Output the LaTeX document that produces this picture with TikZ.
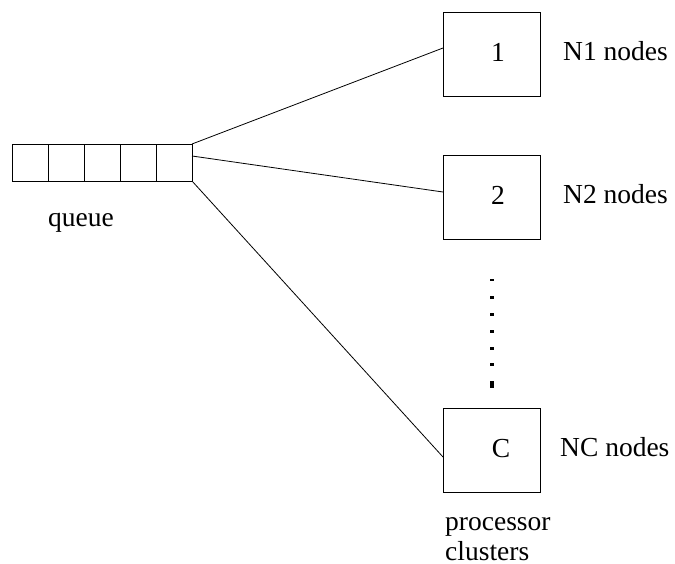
\documentclass[tikz,border=0pt]{standalone}
\usepackage{fontspec}
\setmainfont{Liberation Serif}
\begin{document}
\begin{tikzpicture}[x=1pt,y=-1pt,
  cell/.style={draw, line width=0.9pt, minimum width=36pt, minimum height=37pt, inner sep=0pt, outer sep=0pt},
  cluster/.style={draw, line width=1pt, minimum width=97pt, minimum height=84pt, inner sep=0pt, outer sep=0pt},
  lbl/.style={inner sep=0pt, font=\fontsize{27.5}{31}\selectfont},
  link/.style={line width=0.8pt},
  dot/.style={fill=black}]
\useasboundingbox (0,0) rectangle (675,564);
% queue
\foreach \i in {1,...,5} {
  \node[cell] (q\i) at ({12+36*\i-18},162.5) {};
}
\node[lbl, anchor=base west] (qlabel) at (48,227) {queue};
% clusters
\node[cluster] (b1) at (491.5,55) {};
\node[cluster] (b2) at (491.5,198) {};
\node[cluster] (bc) at (491.5,450.5) {};
\node[lbl, anchor=base] (t1) at (498,62) {1};
\node[lbl, anchor=base] (t2) at (498,205) {2};
\node[lbl, anchor=base] (tc) at (501,457) {C};
\node[lbl, anchor=base west] (n1) at (563,61) {N1 nodes};
\node[lbl, anchor=base west] (n2) at (563,204) {N2 nodes};
\node[lbl, anchor=base west] (nc) at (560,456) {NC nodes};
\node[lbl, anchor=base west] (pc) at (445,530) {processor};
\node[lbl, anchor=base west] (pc2) at (445,560) {clusters};
% links
\draw[link] (q5.north east) -- ([yshift=7pt]b1.west);
\draw[link] ([yshift=-12pt]q5.north east) -- ([yshift=6pt]b2.west);
\draw[link] (q5.south east) -- ([yshift=-6.5pt]bc.west);
% dots
\foreach \y in {279,296,313,330,347,363} {
  \fill[dot] (489.5,\y) rectangle (494,\y+2.5);
}
\fill[dot] (489.5,381) rectangle (494,388);
\end{tikzpicture}
\end{document}
